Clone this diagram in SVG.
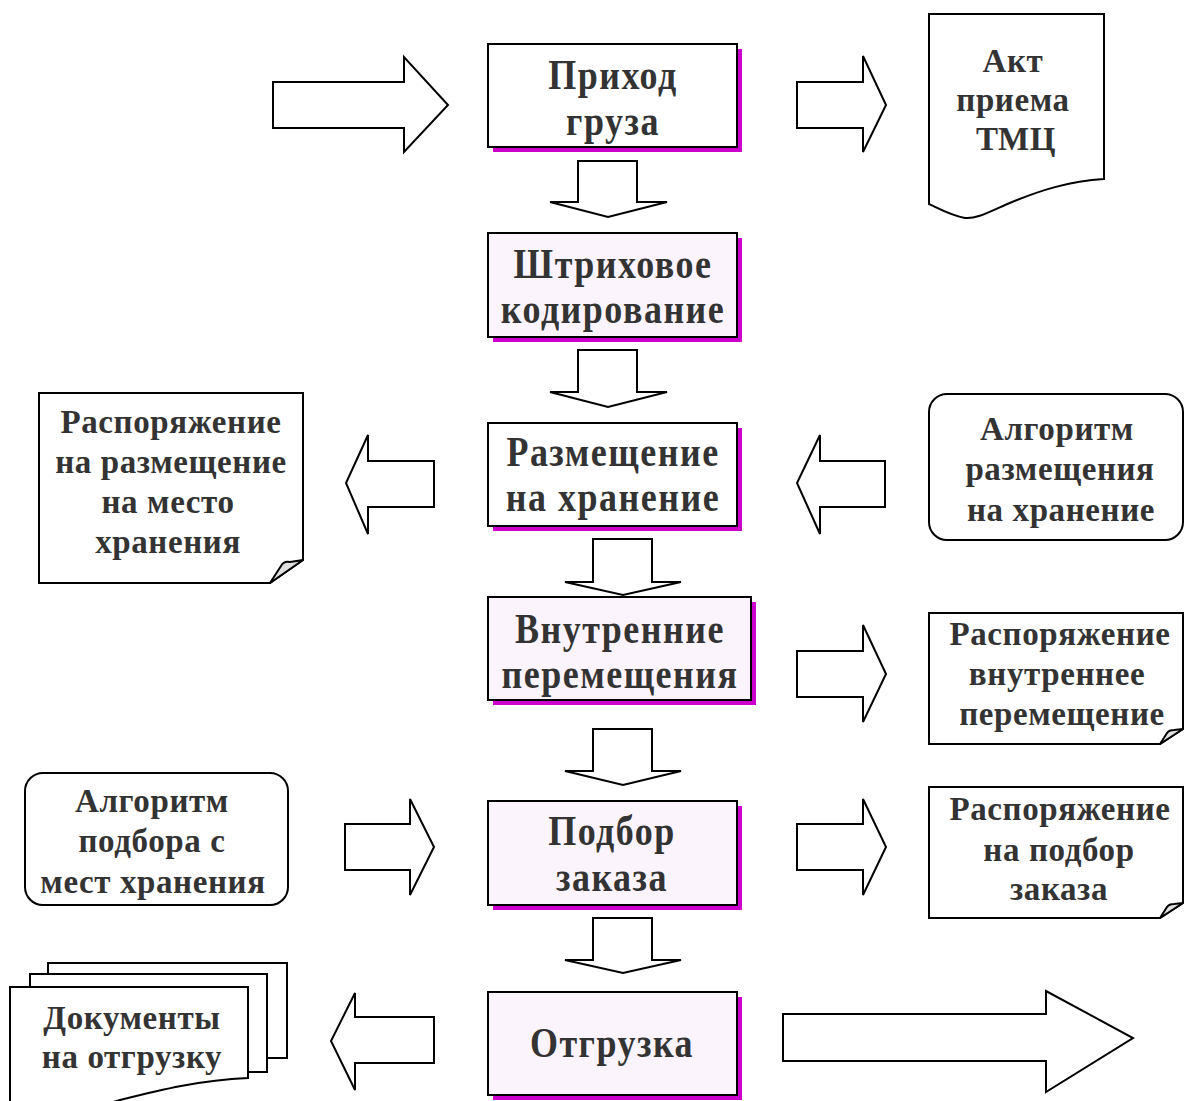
<svg xmlns="http://www.w3.org/2000/svg" width="1184" height="1101" viewBox="0 0 1184 1101">
  <defs>
    <style>
      .box { stroke: #000; stroke-width: 2; }
      .plain { fill: #fff; }
      .tint { fill: #fcf4fc; }
      .shadow { fill: #cc00cc; }
      .doc { fill: #fff; stroke: #000; stroke-width: 2; }
      .fold { fill: #e0e0e0; stroke: #000; stroke-width: 2; stroke-linejoin: round; }
      .arrow { fill: #fff; stroke: #000; stroke-width: 2; stroke-linejoin: miter; }
      text { font-family: "Liberation Serif", "DejaVu Serif", serif; font-weight: bold; fill: #333; text-anchor: middle; }
      .pt { font-size: 36px; letter-spacing: 1.5px; }
      .dt { font-size: 33px; letter-spacing: 0.6px; }
    </style>
  </defs>

  <!-- block arrows -->
  <g id="connectors">
    <!-- incoming cargo -->
    <polygon class="arrow" points="273,82 404,82 404,57 448,105 404,152 404,128 273,128"/>
    <!-- to acceptance act -->
    <polygon class="arrow" points="797,82 863,82 863,56 886,105 863,152 863,128 797,128"/>
    <!-- downward flow -->
    <polygon class="arrow" points="578,161 637,161 637,202 667,202 608,217 550,202 578,202"/>
    <polygon class="arrow" points="578,350 637,350 637,392 667,392 608,407 550,392 578,392"/>
    <polygon class="arrow" points="593,539 652,539 652,582 681,582 623,595 565,582 593,582"/>
    <polygon class="arrow" points="593,729 652,729 652,771 681,771 623,785 565,771 593,771"/>
    <polygon class="arrow" points="593,918 652,918 652,960 681,960 623,973 565,960 593,960"/>
    <!-- storage placement -->
    <polygon class="arrow" points="434,461 368,461 368,435 346,483 368,534 368,507 434,507"/>
    <polygon class="arrow" points="885,461 820,461 820,435 797,483 820,534 820,507 885,507"/>
    <!-- internal moves -->
    <polygon class="arrow" points="797,651 863,651 863,625 886,674 863,722 863,697 797,697"/>
    <!-- order picking -->
    <polygon class="arrow" points="345,824 410,824 410,799 434,847 410,895 410,870 345,870"/>
    <polygon class="arrow" points="797,824 863,824 863,799 886,847 863,895 863,870 797,870"/>
    <!-- shipment -->
    <polygon class="arrow" points="434,1017 355,1017 355,993 331,1041 355,1090 355,1063 434,1063"/>
    <polygon class="arrow" points="783,1014 1046,1014 1046,991 1133,1038 1046,1092 1046,1061 783,1061"/>
  </g>

  <!-- process steps (labels drawn slightly taller than wide) -->
  <g id="step-arrival">
    <rect class="shadow" x="493" y="49" width="249" height="103"/>
    <rect class="box plain" x="488" y="44" width="249" height="103"/>
    <text class="pt" transform="translate(613,89) scale(1,1.2)">Приход</text>
    <text class="pt" transform="translate(613,135) scale(1,1.2)">груза</text>
  </g>
  <g id="step-barcode">
    <rect class="shadow" x="493" y="238" width="249" height="104"/>
    <rect class="box tint" x="488" y="233" width="249" height="104"/>
    <text class="pt" transform="translate(613,278) scale(1,1.2)">Штриховое</text>
    <text class="pt" transform="translate(613,323) scale(1,1.2)">кодирование</text>
  </g>
  <g id="step-placement">
    <rect class="shadow" x="493" y="428" width="249" height="103"/>
    <rect class="box plain" x="488" y="423" width="249" height="103"/>
    <text class="pt" transform="translate(613,466) scale(1,1.2)">Размещение</text>
    <text class="pt" transform="translate(613,511) scale(1,1.2)">на хранение</text>
  </g>
  <g id="step-moves">
    <rect class="shadow" x="493" y="602" width="263" height="103"/>
    <rect class="box tint" x="488" y="597" width="263" height="103"/>
    <text class="pt" transform="translate(620,643) scale(1,1.2)">Внутренние</text>
    <text class="pt" transform="translate(620,688) scale(1,1.2)">перемещения</text>
  </g>
  <g id="step-picking">
    <rect class="shadow" x="493" y="806" width="249" height="104"/>
    <rect class="box tint" x="488" y="801" width="249" height="104"/>
    <text class="pt" transform="translate(612,845) scale(1,1.2)">Подбор</text>
    <text class="pt" transform="translate(612,891) scale(1,1.2)">заказа</text>
  </g>
  <g id="step-shipment">
    <rect class="shadow" x="493" y="997" width="249" height="103"/>
    <rect class="box tint" x="488" y="992" width="249" height="103"/>
    <text class="pt" transform="translate(612,1057) scale(1,1.2)">Отгрузка</text>
  </g>

  <!-- documents and algorithms -->
  <g id="doc-act">
    <path class="doc" d="M929,14 H1104 V179 C1070,181 1040,190 1005,205 C985,214 975,219 965,218 C950,215 940,209 929,204 Z"/>
    <text class="dt" x="1013" y="72">Акт</text>
    <text class="dt" x="1013" y="111">приема</text>
    <text class="dt" x="1016" y="150">ТМЦ</text>
  </g>
  <g id="doc-placement-order">
    <path class="doc" d="M39,393 H303 V560 L270,583 H39 Z"/>
    <path class="fold" d="M270,583 L281,566 C283,562 286,561 290,562 L303,560 Z"/>
    <text class="dt" x="171" y="433">Распоряжение</text>
    <text class="dt" x="171" y="473">на размещение</text>
    <text class="dt" x="168" y="513">на место</text>
    <text class="dt" x="168" y="553">хранения</text>
  </g>
  <g id="alg-placement">
    <rect class="doc" x="929" y="394" width="254" height="146" rx="18"/>
    <text class="dt" x="1057" y="440">Алгоритм</text>
    <text class="dt" x="1060" y="480">размещения</text>
    <text class="dt" x="1061" y="521">на хранение</text>
  </g>
  <g id="doc-moves-order">
    <path class="doc" d="M929,613 H1183 V729 L1160,744 H929 Z"/>
    <path class="fold" d="M1160,744 L1167,733 C1169,730 1171,730 1174,730 L1183,729 Z"/>
    <text class="dt" x="1060" y="645">Распоряжение</text>
    <text class="dt" x="1057" y="685">внутреннее</text>
    <text class="dt" x="1062" y="725">перемещение</text>
  </g>
  <g id="alg-picking">
    <rect class="doc" x="25" y="773" width="263" height="132" rx="18"/>
    <text class="dt" x="152" y="812">Алгоритм</text>
    <text class="dt" x="152" y="852">подбора с</text>
    <text class="dt" x="153" y="893">мест хранения</text>
  </g>
  <g id="doc-picking-order">
    <path class="doc" d="M929,787 H1183 V903 L1160,918 H929 Z"/>
    <path class="fold" d="M1160,918 L1167,907 C1169,904 1171,904 1174,904 L1183,903 Z"/>
    <text class="dt" x="1060" y="820">Распоряжение</text>
    <text class="dt" x="1059" y="861">на подбор</text>
    <text class="dt" x="1059" y="900">заказа</text>
  </g>
  <g id="doc-shipping">
    <path class="doc" d="M48,963 H287 V1058 H267 V974 H48 Z"/>
    <path class="doc" d="M30,974 H267 V1072 H248 V987 H30 Z"/>
    <path class="doc" d="M10,987 H248 V1078 C200,1080 160,1090 120,1100 L110,1103 H10 Z"/>
    <text class="dt" x="132" y="1029">Документы</text>
    <text class="dt" x="132" y="1068">на отгрузку</text>
  </g>
</svg>
